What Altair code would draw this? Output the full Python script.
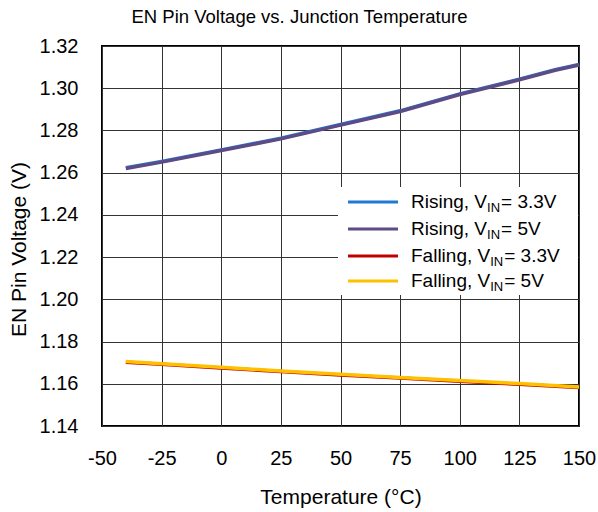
import altair as alt
import pandas as pd

# ---- data ----
temps_rise = [-40, -25, 0, 25, 50, 75, 100, 125, 140, 150]
rise_33 = [1.2623, 1.2653, 1.2708, 1.2763, 1.2828, 1.2893, 1.2973, 1.3043, 1.3088, 1.3113]
rise_5 = [1.2620, 1.2650, 1.2705, 1.2760, 1.2825, 1.2890, 1.2970, 1.3040, 1.3085, 1.3110]

temps_fall = [-40, -25, 0, 25, 50, 75, 100, 125, 150]
fall_33 = [1.1702, 1.1692, 1.1675, 1.1658, 1.1642, 1.1627, 1.1612, 1.1598, 1.1582]
fall_5 = [1.1705, 1.1695, 1.1678, 1.1661, 1.1645, 1.1630, 1.1615, 1.1601, 1.1585]

series_names = ["Rising 3.3V", "Rising 5V", "Falling 3.3V", "Falling 5V"]
series_colors = ["#1f7ad6", "#5e4b86", "#c00000", "#ffc000"]
legend_main = ["Rising, V", "Rising, V", "Falling, V", "Falling, V"]
legend_sub = ["IN", "IN", "IN", "IN"]
legend_rest = ["\u00a0=\u00a03.3V", "\u00a0=\u00a05V", "\u00a0=\u00a03.3V", "\u00a0=\u00a05V"]

x_ticks = [-50, -25, 0, 25, 50, 75, 100, 125, 150]
y_ticks = [1.14, 1.16, 1.18, 1.20, 1.22, 1.24, 1.26, 1.28, 1.30, 1.32]

FONT = "Liberation Sans"
W, H = 477, 380

rows = []
for name, xs, ys in [
    (series_names[0], temps_rise, rise_33),
    (series_names[1], temps_rise, rise_5),
    (series_names[2], temps_fall, fall_33),
    (series_names[3], temps_fall, fall_5),
]:
    for t, v in zip(xs, ys):
        rows.append({"series": name, "temp": t, "volt": v})
df = pd.DataFrame(rows)

base_lines = alt.Chart(df).mark_line(strokeWidth=3.5, strokeCap="butt").encode(
    x=alt.X("temp:Q", scale=alt.Scale(domain=[-50, 150], nice=False),
            axis=alt.Axis(values=x_ticks, title="Temperature (°C)", labelExpr="'' + datum.value",
                          labelFlush=False)),
    y=alt.Y("volt:Q", scale=alt.Scale(domain=[1.14, 1.32], nice=False, zero=False),
            axis=alt.Axis(values=y_ticks, title="EN Pin Voltage (V)", format=".2f", titleY=203,
                          labelFlush=False)),
    color=alt.Color("series:N", scale=alt.Scale(domain=series_names, range=series_colors), legend=None),
)

lines = alt.layer(*[
    base_lines.transform_filter(alt.datum.series == n) for n in series_names
])

# ---- manual legend (needs subscripts) ----
ARIAL = {
    "R": .722, "i": .222, "s": .5, "n": .556, "g": .556, ",": .278, " ": .278, "V": .667,
    "F": .611, "a": .556, "l": .222, "I": .278, "N": .722, "=": .584, "3": .556, ".": .278,
    "5": .556,
}


def tw(s, fs):
    return sum(ARIAL.get(c, .556) for c in s) * fs


LFS = 19
SFS = 13
leg_left, leg_top = 236, 141
one = pd.DataFrame({"a": [0]})
leg = [alt.Chart(one).mark_rect(color="white").encode(
    x=alt.value(leg_left), x2=alt.value(W - 1), y=alt.value(leg_top), y2=alt.value(249))]
row_y = [156, 183, 210, 235]
for i in range(4):
    yy = row_y[i]
    tx0 = 309
    leg.append(alt.Chart(one).mark_rule(
        color=series_colors[i], strokeWidth=3).encode(
        x=alt.value(246), x2=alt.value(296), y=alt.value(yy)))
    leg.append(alt.Chart(one).mark_text(
        text=legend_main[i], font=FONT, fontSize=LFS, align="left", baseline="middle", color="black").encode(
        x=alt.value(tx0), y=alt.value(yy)))
    x1 = tx0 + tw(legend_main[i], LFS)
    leg.append(alt.Chart(one).mark_text(
        text=legend_sub[i], font=FONT, fontSize=SFS, align="left", baseline="middle", color="black").encode(
        x=alt.value(x1), y=alt.value(yy + 6)))
    x2 = x1 + tw(legend_sub[i], SFS) + 1
    leg.append(alt.Chart(one).mark_text(
        text=legend_rest[i], font=FONT, fontSize=LFS, align="left", baseline="middle", color="black").encode(
        x=alt.value(x2), y=alt.value(yy)))

chart = alt.layer(lines, *leg).properties(
    width=W, height=H,
    autosize=alt.AutoSizeParams(type="none"),
    padding={"left": 102, "top": 46, "right": 19, "bottom": 86},
    title=alt.TitleParams("EN Pin Voltage vs. Junction Temperature", font=FONT, fontSize=18.5,
                          fontWeight="normal", color="black", anchor="middle", dx=-41, offset=10),
).configure_view(stroke="black", strokeWidth=2).configure_axis(
    grid=True, gridColor="#333333", gridWidth=1, gridOpacity=1,
    domain=False, ticks=False,
    labelFont=FONT, labelFontSize=20, labelColor="black",
    titleFont=FONT, titleFontSize=21, titleColor="black", titleFontWeight="normal",
).configure_axisX(labelPadding=22, titlePadding=18).configure_axisY(labelPadding=24, titlePadding=10)

chart.save("out.html", embed_options={"renderer": "svg", "actions": False})
